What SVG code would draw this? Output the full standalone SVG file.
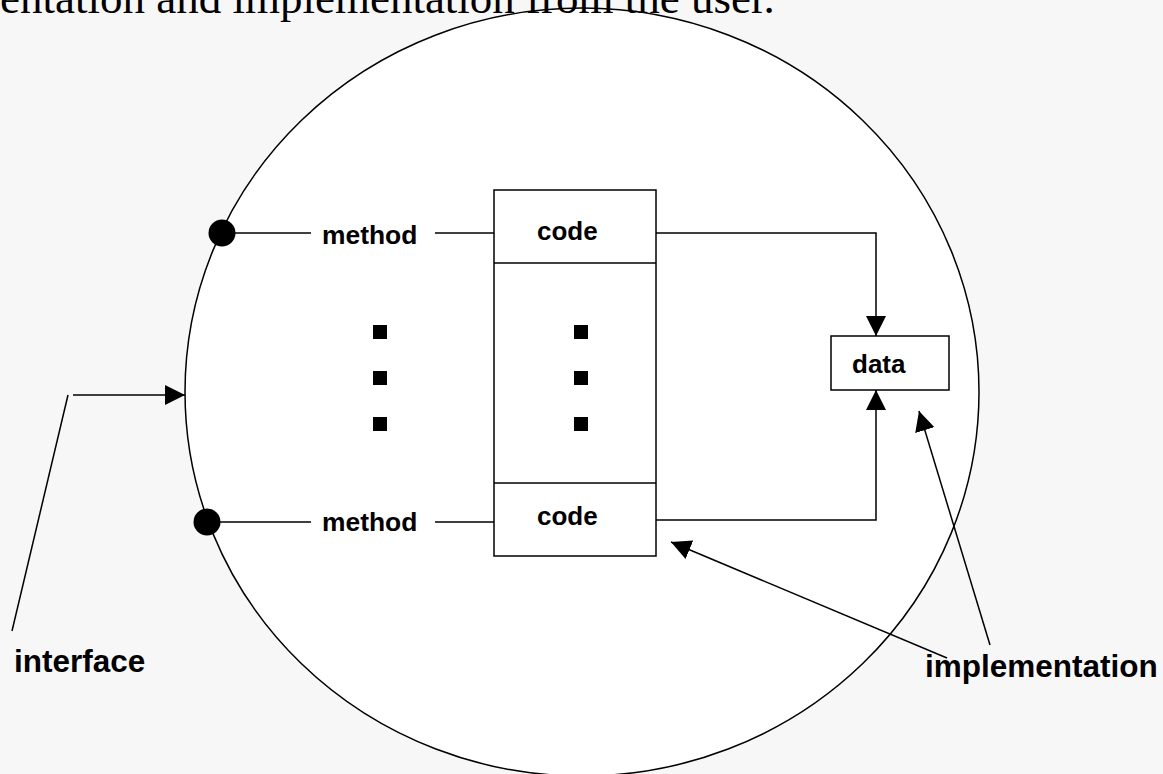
<svg xmlns="http://www.w3.org/2000/svg" width="1163" height="774" viewBox="0 0 1163 774">
<style>
.ln{stroke:#000;stroke-width:1.5;fill:none}
.bx{stroke:#000;stroke-width:1.5;fill:#fff}
.lb{font-family:"Liberation Sans",Arial,sans-serif;font-weight:bold;fill:#000}
.sm{font-size:26px}
.bg{font-size:31.5px}
.sq{fill:#000}
</style>
<defs>
<marker id="ah" markerWidth="20" markerHeight="20" viewBox="0 0 20 20" refX="20" refY="10" orient="auto" markerUnits="userSpaceOnUse">
<path d="M0,0 L20,10 L0,20 Z" fill="#000"/>
</marker>
</defs>
<rect x="0" y="0" width="1163" height="774" fill="#f7f7f7"/>
<g id="object">
<ellipse cx="582" cy="392" rx="397" ry="384" fill="#fff" stroke="#000" stroke-width="1.5"/>
</g>
<text x="0" y="13" font-family="'Liberation Serif','Times New Roman',serif" font-size="45" fill="#000">entation and implementation from the user.</text>
<g id="methods-column">
<rect class="bx" x="494" y="190" width="162" height="366"/>
<line class="ln" x1="494" y1="263" x2="656" y2="263"/>
<line class="ln" x1="494" y1="483" x2="656" y2="483"/>
</g>
<g id="code-top"><text class="lb sm" x="537" y="240">code</text></g>
<g id="code-bottom"><text class="lb sm" x="537" y="525">code</text></g>
<g id="method-top">
<circle cx="222" cy="233" r="13.5" fill="#000"/>
<text class="lb" x="322" y="244" font-size="26.4">method</text>
</g>
<g id="method-bottom">
<circle cx="207" cy="522" r="13.5" fill="#000"/>
<text class="lb" x="322" y="531" font-size="26.4">method</text>
</g>
<g id="data">
<rect class="bx" x="831" y="336" width="118" height="54"/>
<text class="lb sm" x="852" y="373">data</text>
</g>
<g id="dots">
<rect class="sq" x="373" y="325" width="14" height="14"/>
<rect class="sq" x="373" y="371" width="14" height="14"/>
<rect class="sq" x="373" y="417" width="14" height="14"/>
<rect class="sq" x="574" y="325" width="14" height="14"/>
<rect class="sq" x="574" y="371" width="14" height="14"/>
<rect class="sq" x="574" y="417" width="14" height="14"/>
</g>
<g id="interface-label"><text class="lb bg" x="14" y="672">interface</text></g>
<g id="implementation-label"><text class="lb bg" x="925" y="677">implementation</text></g>
<g id="connectors">
<line class="ln" x1="222" y1="233" x2="311" y2="233"/>
<line class="ln" x1="435" y1="233" x2="494" y2="233"/>
<line class="ln" x1="207" y1="522" x2="311" y2="522"/>
<line class="ln" x1="435" y1="522" x2="494" y2="522"/>
<polyline class="ln" points="656,233 876,233 876,336" marker-end="url(#ah)"/>
<polyline class="ln" points="656,520 876,520 876,390" marker-end="url(#ah)"/>
<line class="ln" x1="73" y1="395" x2="185" y2="395" marker-end="url(#ah)"/>
<line class="ln" x1="68" y1="395" x2="12" y2="631"/>
<line class="ln" x1="990" y1="645" x2="919" y2="411" marker-end="url(#ah)"/>
<line class="ln" x1="947" y1="658" x2="671" y2="542" marker-end="url(#ah)"/>
</g>
</svg>
